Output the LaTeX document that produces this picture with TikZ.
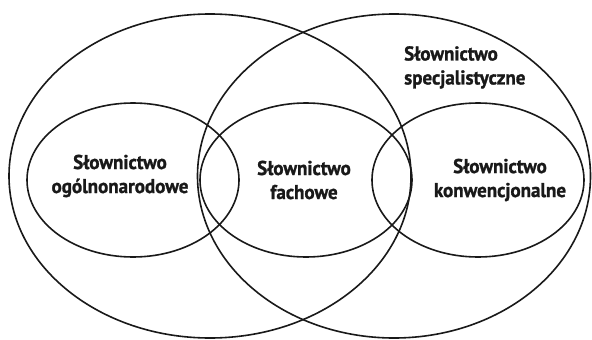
\documentclass[tikz,border=0pt]{standalone}
\usepackage{fontspec}
\setmainfont{PT Sans}[FakeStretch=0.95,FakeBold=1.2]
\usetikzlibrary{shapes.geometric}
\begin{document}
\begin{tikzpicture}[x=1pt,y=-1pt,
  set/.style={draw=black!90, line width=1.6pt, ellipse, inner sep=0pt},
  lbl/.style={font=\bfseries\fontsize{20}{24}\selectfont, align=center, inner sep=0pt, text=black!90}]
\useasboundingbox (0,0) rectangle (592,340);
\node[set, minimum width=402pt, minimum height=324pt] (ogolne) at (210,176) {};
\node[set, minimum width=393pt, minimum height=324pt] (spec) at (394,176) {};
\node[set, minimum width=212pt, minimum height=154pt] (ogolnonar) at (133,180) {};
\node[set, minimum width=212pt, minimum height=154pt] (fach) at (306,180) {};
\node[set, minimum width=212pt, minimum height=154pt] (konw) at (478,180) {};
\node[lbl] (t1) at (120,176) {Słownictwo\\ogólnonarodowe};
\node[lbl] (t2) at (304,180) {Słownictwo\\fachowe};
\node[lbl] (t3) at (500,180) {Słownictwo\\konwencjonalne};
\node[lbl, align=left, anchor=north west] (t4) at (404,46) {Słownictwo\\specjalistyczne};
\end{tikzpicture}
\end{document}
